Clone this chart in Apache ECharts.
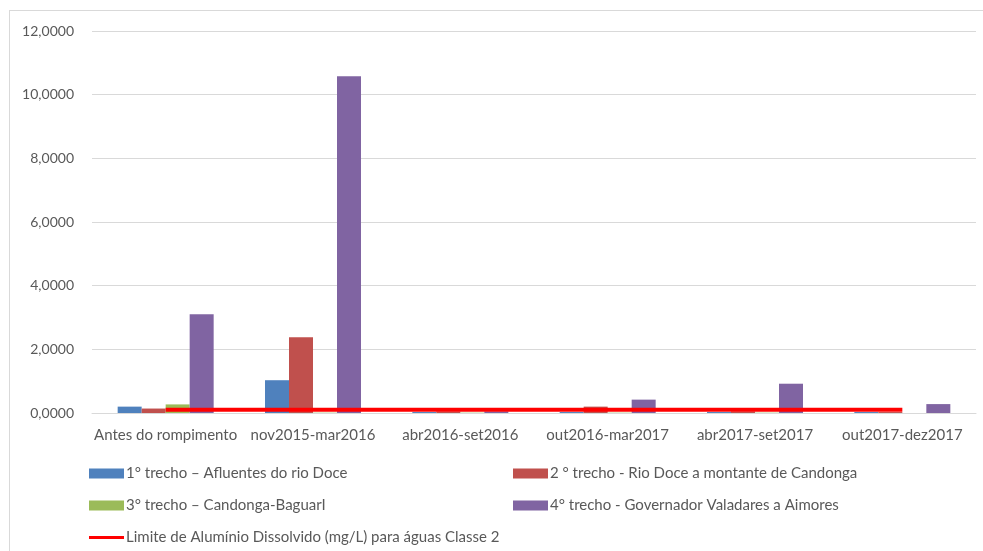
<!DOCTYPE html>
<html>
<head>
<meta charset="utf-8">
<script src="https://cdn.jsdelivr.net/npm/echarts@6/dist/echarts.min.js"></script>
<style>
  html, body { margin: 0; padding: 0; background: #fff; }
  #frame { position: absolute; left: 9px; top: 10px; width: 990px; height: 560px; border: 1px solid #d9d9d9; box-sizing: border-box; }
  #chart { position: absolute; left: 0; top: 0; width: 983px; height: 551px; }
</style>
</head>
<body>
<div id="frame"></div>
<div id="chart"></div>
<script>
const periods = ['Antes do rompimento', 'nov2015-mar2016', 'abr2016-set2016', 'out2016-mar2017', 'abr2017-set2017', 'out2017-dez2017'];
const trecho1 = [0.20, 1.03, 0.03, 0.03, 0.03, 0.03];
const trecho2 = [0.14, 2.38, 0.05, 0.20, 0.05, 0.03];
const trecho3 = [0.27, 0.01, 0.01, 0.01, 0.01, 0];
const trecho4 = [3.10, 10.58, 0.05, 0.42, 0.92, 0.28];
const limite = [0.1, 0.1, 0.1, 0.1, 0.1, 0.1];
const seriesNames = [
    '1° trecho – Afluentes do rio Doce',
    '2 ° trecho - Rio Doce a montante de Candonga',
    '3° trecho – Candonga-BaguarI',
    '4° trecho - Governador Valadares a Aimores',
    'Limite de Alumínio Dissolvido (mg/L) para águas Classe 2'
];
const colors = ['#4F81BD', '#C0504D', '#9BBB59', '#8064A2', '#FF0000'];

const myChart = echarts.init(document.getElementById('chart'));
const font = 'Lato, "Liberation Sans", sans-serif';
const textColor = '#595959';

function legendAt(i, left, top) {
    return {
        left: left,
        top: top,
        data: [{ name: seriesNames[i], icon: 'rect' }],
        itemWidth: 35,
        itemHeight: i === 4 ? 3 : 10,
        itemGap: 0,
        textStyle: { fontFamily: font, fontSize: 15, color: textColor, padding: [0, 0, 0, -3] },
        selectedMode: false
    };
}

const barSeries = [trecho1, trecho2, trecho3, trecho4].map(function (d, i) {
    return {
        name: seriesNames[i],
        type: 'bar',
        data: d,
        barWidth: 24,
        barGap: '0%',
        itemStyle: { color: colors[i] }
    };
});

const option = {
    animation: false,
    textStyle: { fontFamily: font },
    grid: { left: 92, right: 7, top: 31, bottom: 138 },
    legend: [
        legendAt(0, 84, 461),
        legendAt(1, 508, 461),
        legendAt(2, 84, 493),
        legendAt(3, 508, 493),
        legendAt(4, 84, 525)
    ],
    xAxis: {
        type: 'category',
        data: periods,
        axisLine: { lineStyle: { color: '#d9d9d9' } },
        axisTick: { show: false },
        axisLabel: { color: textColor, fontSize: 15, margin: 15, fontFamily: font, interval: 0 }
    },
    yAxis: {
        type: 'value',
        min: 0,
        max: 12,
        interval: 2,
        axisLine: { show: false },
        axisTick: { show: false },
        splitLine: { lineStyle: { color: '#d9d9d9' } },
        axisLabel: {
            color: textColor, fontSize: 14, margin: 18, fontFamily: font,
            formatter: function (v) { return v.toFixed(4).replace('.', ','); }
        }
    },
    series: barSeries.concat([{
        name: seriesNames[4],
        type: 'line',
        data: limite,
        symbol: 'none',
        z: 5,
        lineStyle: { color: colors[4], width: 4 },
        itemStyle: { color: colors[4] }
    }])
};

myChart.setOption(option);
</script>
</body>
</html>
